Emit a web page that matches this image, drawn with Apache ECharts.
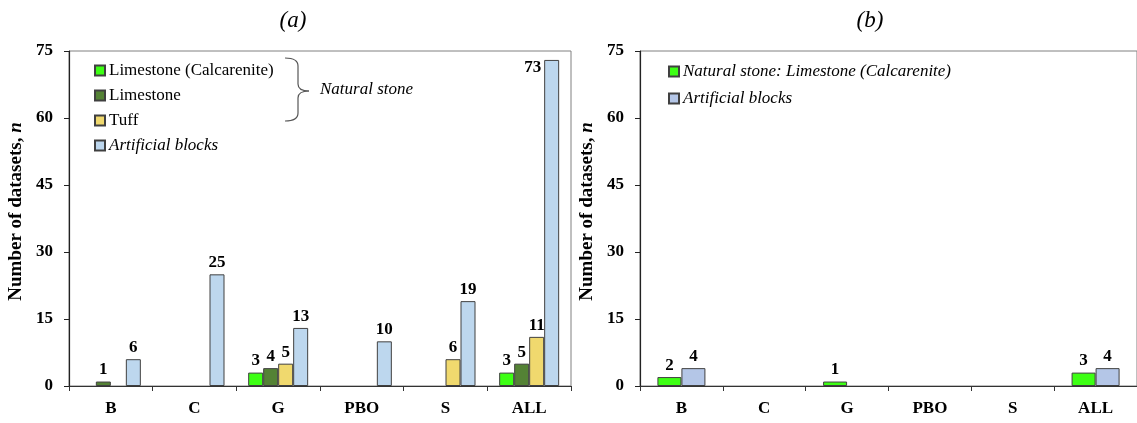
<!DOCTYPE html>
<html>
<head>
<meta charset="utf-8">
<script src="https://cdn.jsdelivr.net/npm/echarts@6/dist/echarts.min.js"></script>
<style>
  html, body { margin: 0; padding: 0; background: #fff; }
  #chart { width: 1137px; height: 423px; }
</style>
</head>
<body>
<div id="chart"></div>
<script>
// Dataset counts per test category
const categories = ['B', 'C', 'G', 'PBO', 'S', 'ALL'];

// (a) all materials
const calcarenite = [null, null, 3, null, null, 3];
const limestone   = [1, null, 4, null, null, 5];
const tuff        = [null, null, 5, null, 6, 11];
const artificial  = [6, 25, 13, 10, 19, 73];

// (b) subset
const calcariteB  = [2, null, 1, null, null, 3];
const artificialB = [4, null, null, null, null, 4];

const yTicks = [0, 15, 30, 45, 60, 75];

const SERIF = '"Liberation Serif", "Times New Roman", serif';
const INK = '#000';
const EDGE = '#404040';
const FS = 17;

const labelStyle = {
  show: true,
  position: 'top',
  distance: 3,
  fontFamily: SERIF,
  fontWeight: 'bold',
  fontSize: FS,
  color: INK
};

function yAxis(gridIndex) {
  return {
    type: 'value',
    gridIndex,
    min: yTicks[0],
    max: yTicks[yTicks.length - 1],
    interval: yTicks[1] - yTicks[0],
    name: 'Number of datasets, {i|n}',
    nameLocation: 'middle',
    nameGap: 43,
    nameTextStyle: {
      fontFamily: SERIF, fontWeight: 'bold', fontSize: 19, color: INK,
      padding: [0, 0, 0, 14],
      rich: { i: { fontFamily: SERIF, fontWeight: 'bold', fontStyle: 'italic', fontSize: 19, color: INK } }
    },
    axisLine: { show: true, lineStyle: { color: '#222', width: 1.2 } },
    axisTick: { show: true, inside: false, length: 5, lineStyle: { color: '#222' } },
    axisLabel: { fontFamily: SERIF, fontWeight: 'bold', fontSize: FS, color: INK, margin: 16 },
    splitLine: { show: false }
  };
}

function xAxis(gridIndex) {
  return {
    type: 'category',
    gridIndex,
    data: categories,
    boundaryGap: true,
    axisLine: { show: true, lineStyle: { color: '#333', width: 1.2 } },
    axisTick: { show: true, length: 5, lineStyle: { color: '#333' } },
    axisLabel: { fontFamily: SERIF, fontWeight: 'bold', fontSize: FS, color: INK, margin: 14 }
  };
}

function bars(name, data, color, axis, width) {
  return {
    name,
    type: 'bar',
    xAxisIndex: axis,
    yAxisIndex: axis,
    data,
    barWidth: width,
    barGap: '0%',
    itemStyle: { color, borderColor: EDGE, borderWidth: 1 },
    label: labelStyle,
    emphasis: { disabled: true }
  };
}

// the tallest bar carries its value to the left of its top
const artificialData = artificial.map((v, i) =>
  i === artificial.length - 1
    ? { value: v, label: { position: [-3, 8], align: 'right', verticalAlign: 'middle' } }
    : v);

// curly brace grouping the natural stone entries
const braceStroke = { stroke: '#555', lineWidth: 1.2, fill: 'none' };
const brace = [
  { type: 'bezierCurve', shape: { x1: 285, y1: 58, cpx1: 298, cpy1: 58, x2: 298, y2: 66 } },
  { type: 'line', shape: { x1: 298, y1: 66, x2: 298, y2: 84 } },
  { type: 'bezierCurve', shape: { x1: 298, y1: 84, cpx1: 298, cpy1: 91, x2: 309, y2: 91 } },
  { type: 'bezierCurve', shape: { x1: 309, y1: 91, cpx1: 298, cpy1: 91, x2: 298, y2: 98 } },
  { type: 'line', shape: { x1: 298, y1: 98, x2: 298, y2: 113 } },
  { type: 'bezierCurve', shape: { x1: 298, y1: 113, cpx1: 298, cpy1: 121, x2: 285, y2: 121 } }
].map(el => Object.assign(el, { style: braceStroke, silent: true }));

const chart = echarts.init(document.getElementById('chart'), null, { renderer: 'canvas' });

chart.setOption({
  animation: false,
  backgroundColor: '#fff',
  title: [
    { text: '(a)', left: 288, top: 4, textAlign: 'center',
      textStyle: { fontFamily: SERIF, fontStyle: 'italic', fontWeight: 'normal', fontSize: 23, color: INK } },
    { text: '(b)', left: 865, top: 4, textAlign: 'center',
      textStyle: { fontFamily: SERIF, fontStyle: 'italic', fontWeight: 'normal', fontSize: 23, color: INK } }
  ],
  grid: [
    { left: 69, right: 566, top: 51, bottom: 37, show: true, borderColor: '#808080', borderWidth: 1, backgroundColor: 'transparent' },
    { left: 640, right: -5, top: 51, bottom: 37, show: true, borderColor: '#808080', borderWidth: 1, backgroundColor: 'transparent' }
  ],
  xAxis: [xAxis(0), xAxis(1)],
  yAxis: [yAxis(0), yAxis(1)],
  legend: [
    {
      orient: 'vertical',
      left: 94, top: 62,
      padding: 0,
      itemWidth: 10, itemHeight: 10, itemGap: 8,
      icon: 'rect',
      selectedMode: false,
      textStyle: { fontFamily: SERIF, fontSize: FS, color: INK, padding: [0, 0, 0, -1] },
      data: [
        { name: 'Limestone (Calcarenite)' },
        { name: 'Limestone' },
        { name: 'Tuff' },
        { name: 'Artificial blocks', textStyle: { fontStyle: 'italic' } }
      ]
    },
    {
      orient: 'vertical',
      left: 668, top: 63,
      padding: 0,
      itemWidth: 10, itemHeight: 10, itemGap: 10,
      icon: 'rect',
      selectedMode: false,
      textStyle: { fontFamily: SERIF, fontSize: FS, fontStyle: 'italic', color: INK, padding: [0, 0, 0, -1] },
      formatter: (name) => name.replace(' (b)', ''),
      data: [
        { name: 'Natural stone: Limestone (Calcarenite)' },
        { name: 'Artificial blocks (b)' }
      ]
    }
  ],
  graphic: brace.concat([
    {
      type: 'text',
      left: 320, top: 81,
      silent: true,
      style: { text: 'Natural stone', fontFamily: SERIF, fontStyle: 'italic', fontSize: FS, fill: INK }
    }
  ]),
  series: [
    bars('Limestone (Calcarenite)', calcarenite, '#3dff14', 0, 15),
    bars('Limestone', limestone, '#548235', 0, 15),
    bars('Tuff', tuff, '#f0d96e', 0, 15),
    bars('Artificial blocks', artificialData, '#bdd7ee', 0, 15),
    bars('Natural stone: Limestone (Calcarenite)', calcariteB, '#3dff14', 1, 24),
    bars('Artificial blocks (b)', artificialB, '#b4c6e7', 1, 24)
  ]
});
</script>
</body>
</html>
